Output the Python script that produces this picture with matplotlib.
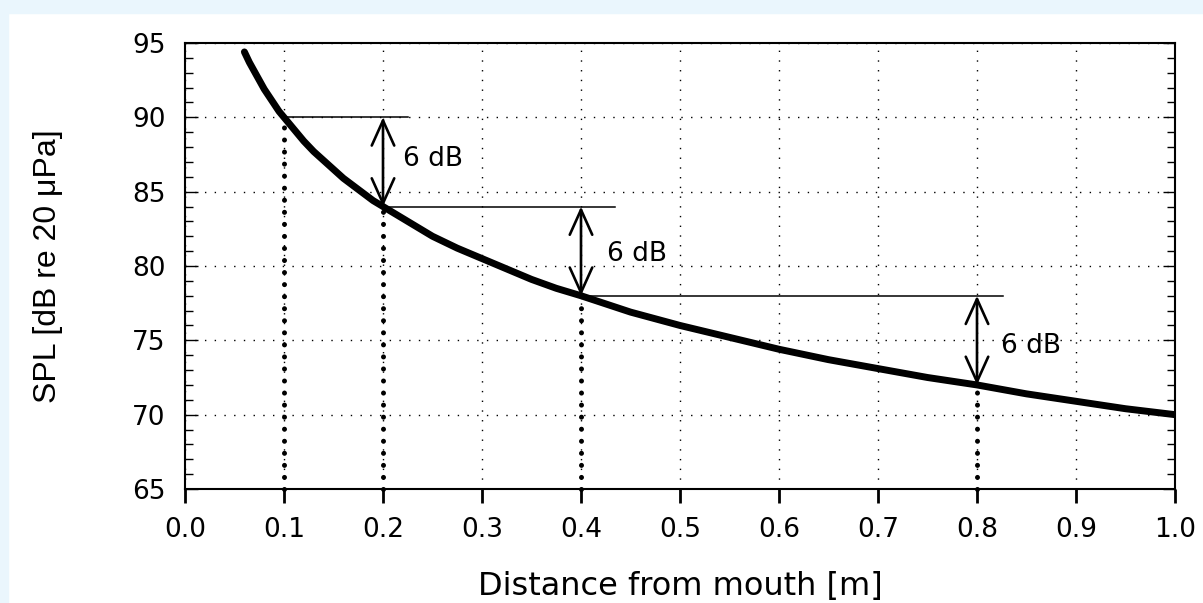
import matplotlib.pyplot as plt
from matplotlib.patches import Rectangle
from matplotlib.ticker import MultipleLocator
import numpy as np

plt.rcParams['font.family'] = ['DejaVu Sans']

# SPL
distance = [0.060, 0.065, 0.070, 0.075, 0.080, 0.085, 0.090, 0.095, 0.100,
            0.110, 0.120, 0.130, 0.140, 0.150, 0.160, 0.170, 0.180, 0.190,
            0.200, 0.220, 0.250, 0.275, 0.300, 0.325, 0.350, 0.375, 0.400,
            0.450, 0.500, 0.550, 0.600, 0.650, 0.700, 0.750, 0.800, 0.850,
            0.900, 0.950, 1.000]
spl = [94.4, 93.7, 93.1, 92.5, 91.9, 91.4, 90.9, 90.4, 90.0,
       89.2, 88.4, 87.7, 87.1, 86.5, 85.9, 85.4, 84.9, 84.4,
       84.0, 83.2, 82.0, 81.2, 80.5, 79.8, 79.1, 78.5, 78.0,
       76.9, 76.0, 75.2, 74.4, 73.7, 73.1, 72.5, 72.0, 71.4,
       70.9, 70.4, 70.0]

# doubling distances and their levels
marked_d = [0.1, 0.2, 0.4, 0.8]
marked_spl = [90, 84, 78, 72]
ref_line_end = [0.225, 0.434, 0.826]
drop_label = '6 dB'
label_pos = [(0.220, 87.2), (0.426, 80.8), (0.824, 74.6)]

fig = plt.figure(figsize=(12.03, 6.03), dpi=100, facecolor='white')
# light blue frame strip along the top and left
fig.patches.append(Rectangle((0, 0.978), 1, 0.022, transform=fig.transFigure,
                             color='#EAF6FD', zorder=0))
fig.patches.append(Rectangle((0, 0), 0.0067, 1, transform=fig.transFigure,
                             color='#EAF6FD', zorder=0))

ax = fig.add_axes([185 / 1203, 1 - 489 / 603, 990 / 1203, 446 / 603])
ax.set_xlim(0, 1.0)
ax.set_ylim(65, 95)

ax.plot(distance, spl, color='black', lw=5, solid_capstyle='round',
        solid_joinstyle='round', zorder=5)

# dotted drop lines from the marked points down to the axis
for d, s in zip(marked_d, marked_spl):
    ax.plot([d, d], [65, s], color='black', lw=3.6,
            linestyle=(0, (0.01, 2.4)), dash_capstyle='round', zorder=4,
            clip_on=False)

# horizontal reference lines and the 6 dB arrows
for i in range(3):
    d0, s0 = marked_d[i], marked_spl[i]
    d1, s1 = marked_d[i + 1], marked_spl[i + 1]
    ax.plot([d0, ref_line_end[i]], [s0, s0], color='black', lw=1.1, zorder=4)
    ax.annotate('', xy=(d1, s1), xytext=(d1, s0),
                arrowprops=dict(arrowstyle='<->,head_length=1.0,head_width=0.45',
                                mutation_scale=18, lw=1.9, color='black',
                                shrinkA=0, shrinkB=0), zorder=6)
    ax.text(label_pos[i][0], label_pos[i][1], drop_label, fontsize=19,
            va='center', ha='left')

ax.grid(True, color='black', linestyle=(0, (1, 6)), lw=1)
ax.set_xticks(np.arange(0, 1.01, 0.1))
ax.set_xticklabels([f'{v:.1f}' for v in np.arange(0, 1.01, 0.1)])
ax.yaxis.set_major_locator(MultipleLocator(5))
ax.yaxis.set_minor_locator(MultipleLocator(1))
ax.tick_params(axis='x', direction='out', length=10, width=2, labelsize=19, pad=10)
ax.tick_params(axis='y', which='both', direction='in', left=True, right=True,
               labelsize=19, pad=14, width=1)
ax.tick_params(axis='y', which='major', length=9)
ax.tick_params(axis='y', which='minor', length=6)
for sp in ax.spines.values():
    sp.set_linewidth(1.5)

ax.set_xlabel('Distance from mouth [m]', fontsize=23, labelpad=20)
ax.set_ylabel('SPL [dB re 20 \u03bcPa]', fontsize=23, labelpad=50,
              family=['Liberation Sans', 'DejaVu Sans'])

fig.savefig('out.png', dpi=100, facecolor=fig.get_facecolor())
